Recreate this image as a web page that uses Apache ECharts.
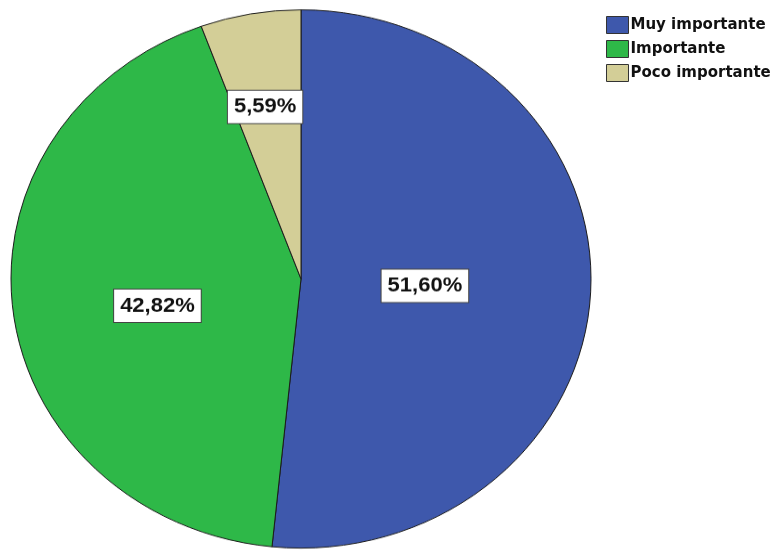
<!DOCTYPE html>
<html>
<head>
<meta charset="utf-8">
<script src="https://cdn.jsdelivr.net/npm/echarts@6/dist/echarts.min.js"></script>
<style>
  html, body { margin: 0; padding: 0; background: #fff; }
  #wrap { position: relative; width: 782px; height: 550px; overflow: hidden; }
  /* the pie is drawn slightly flattened into an ellipse */
  #pie { position: absolute; left: 0; top: 0; width: 782px; height: 593px;
         transform: scaleY(0.928); transform-origin: 0 0; }
  #legend { position: absolute; left: 0; top: 0; width: 782px; height: 550px; pointer-events: none; }
</style>
</head>
<body>
<div id="wrap">
  <div id="pie"></div>
  <div id="legend"></div>
</div>
<script>
// Categories and shares (%)
const categories = ['Muy importante', 'Importante', 'Poco importante'];
const shares = [51.60, 42.82, 5.59];
const colors = ['#3E58AC', '#2EB848', '#D3CE97'];
// placement of each value label: fraction of the radius and angular nudge (degrees)
const labelRadius = [0.428, 0.505, 0.651];
const labelTurn = [0.6, -4.2, -0.9];

const CX = 301, CY = 300.6, R = 290;

const pieData = categories.map((name, i) => ({
  name: name,
  value: shares[i],
  itemStyle: { color: colors[i] }
}));

const total = shares.reduce((a, b) => a + b, 0);
function midAngle(i) {
  let before = 0;
  for (let k = 0; k < i; k++) before += shares[k];
  return ((before + shares[i] / 2) / total) * 2 * Math.PI;
}

const pie = echarts.init(document.getElementById('pie'), null, { renderer: 'canvas' });
pie.setOption({
  animation: false,
  series: [{
    type: 'pie',
    center: [CX, CY],
    radius: [0, R],
    startAngle: 90,
    clockwise: true,
    silent: true,
    data: pieData,
    itemStyle: { borderColor: '#1a1a1a', borderWidth: 1 },
    label: {
      show: true,
      position: 'inside',
      formatter: p => p.value.toFixed(2).replace('.', ',') + '%',
      fontFamily: "'Liberation Sans', Arial, sans-serif",
      fontWeight: 'bold',
      fontSize: 22,
      color: '#111',
      backgroundColor: '#fff',
      borderColor: '#444',
      borderWidth: 1,
      padding: [7, 6, 6, 6]
    },
    labelLine: { show: false },
    labelLayout: function (params) {
      const i = params.dataIndex;
      const a = midAngle(i) + labelTurn[i] * Math.PI / 180;
      const r = labelRadius[i] * R;
      return {
        x: CX + r * Math.sin(a),
        y: CY - r * Math.cos(a),
        align: 'center',
        verticalAlign: 'middle'
      };
    }
  }]
});

const leg = echarts.init(document.getElementById('legend'), null, { renderer: 'canvas' });
leg.setOption({
  animation: false,
  legend: {
    orient: 'vertical',
    left: 601,
    top: 11,
    itemWidth: 22,
    itemHeight: 17,
    itemGap: 6,
    icon: 'rect',
    selectedMode: false,
    data: categories,
    itemStyle: { borderColor: '#333', borderWidth: 1 },
    textStyle: {
      fontFamily: "'DejaVu Sans', Verdana, sans-serif",
      fontWeight: 'bold',
      fontSize: 15,
      color: '#111',
      padding: [0, 0, 0, -3]
    }
  },
  series: [{
    type: 'pie',
    radius: [0, 0],
    silent: true,
    label: { show: false },
    labelLine: { show: false },
    data: pieData
  }]
});
</script>
</body>
</html>
